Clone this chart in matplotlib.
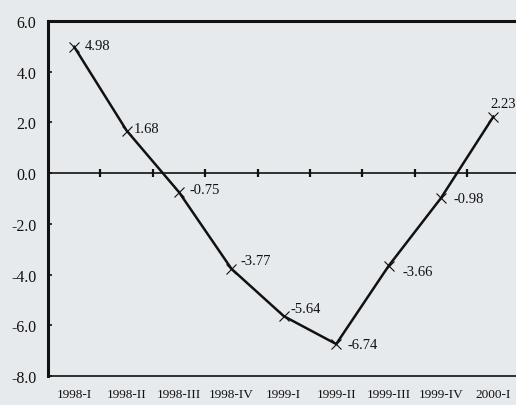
import matplotlib
matplotlib.use("Agg")
import matplotlib.pyplot as plt

# Quarterly growth rates, 1998-I .. 2000-I
quarters = ["1998-I", "1998-II", "1998-III", "1998-IV", "1999-I",
            "1999-II", "1999-III", "1999-IV", "2000-I"]
values = [4.98, 1.68, -0.75, -3.77, -5.64, -6.74, -3.66, -0.98, 2.23]
y_ticks = [6.0, 4.0, 2.0, 0.0, -2.0, -4.0, -6.0, -8.0]

# label offsets in pixels (dx to the text's left edge, dy to its centre)
label_offsets = [(11, 1), (7, 2), (10, 3), (9, 8), (7, 8),
                 (11, 0), (14, -6), (13, -1), (-3, 13)]

BG = "#e7eaed"
plt.rcParams["font.family"] = ["Liberation Serif", "DejaVu Serif"]

fig = plt.figure(figsize=(5.16, 4.06), dpi=100, facecolor=BG)
# axes runs slightly past the right edge of the figure, as in the layout
ax = fig.add_axes([48 / 516, 29 / 406, 471.6 / 516, 355 / 406], facecolor=BG)

xs = list(range(len(quarters)))
ax.plot(xs, values, color="#111111", lw=1.8, marker="x", ms=6.5, mew=0.8,
        zorder=3)

for x, v, (dx, dy) in zip(xs, values, label_offsets):
    ax.annotate(f"{v:.2f}", (x, v), xytext=(dx, dy), textcoords="offset pixels",
                ha="left", va="center", fontsize=10.5, color="#111111",
                annotation_clip=False)

# zero line with category separators crossing it
ax.axhline(0, color="#111111", lw=1.2, zorder=2)
ax.vlines([i + 0.5 for i in xs[:-1]], -0.16, 0.16, color="#111111", lw=1.6,
          zorder=2)

ax.set_xlim(-0.5, len(quarters) - 0.5)
ax.set_ylim(-8, 6)
ax.set_yticks(y_ticks)
ax.set_yticklabels([f"{t:.1f}" for t in y_ticks])
ax.set_xticks(xs)
ax.set_xticklabels(quarters)

ax.tick_params(axis="y", direction="in", length=3, width=1.2, pad=8.5,
               labelsize=11.5, colors="#111111")
ax.tick_params(axis="x", length=0, pad=8.5, labelsize=9.5, colors="#111111")

for side in ("left", "top"):
    ax.spines[side].set_linewidth(2.2)
    ax.spines[side].set_color("#111111")
ax.spines["bottom"].set_linewidth(1.2)
ax.spines["bottom"].set_color("#111111")
ax.spines["right"].set_visible(False)

fig.savefig("out.png", dpi=100, facecolor=BG)
